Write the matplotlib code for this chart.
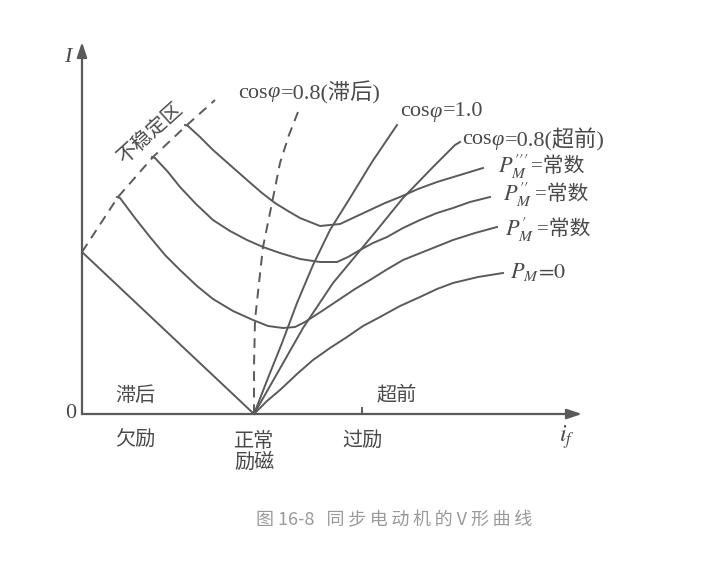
import matplotlib
matplotlib.use("Agg")
import matplotlib.pyplot as plt

# curve data (i_f, I) in schematic units, origin at the axes crossing
unstable_x = [0, 36, 71, 105, 133]
unstable_y = [162, 217, 257, 289, 314]

pm0_x = [0, 172, 185, 198, 215, 231, 248, 265, 281, 298, 318, 338, 355, 371, 396, 421]
pm0_y = [162, 0, 13, 24, 40, 54, 66, 77, 88, 97, 108, 117, 125, 131, 137, 141]

pm1_x = [35, 38, 53, 68, 83, 98, 115, 131, 151, 171, 186, 201, 213, 223,
         240, 258, 273, 288, 304, 321, 346, 371, 393, 415]
pm1_y = [217, 216, 196, 177, 159, 144, 128, 115, 103, 94, 88, 86, 87, 92,
         103, 115, 125, 134, 144, 154, 164, 174, 181, 187]

pm2_x = [70, 73, 86, 98, 114, 131, 148, 165, 181, 198, 218, 238, 255, 266,
         278, 291, 305, 321, 338, 355, 371, 388, 408]
pm2_y = [257, 256, 242, 227, 210, 194, 183, 174, 167, 161, 155, 152, 152, 157,
         164, 171, 177, 186, 194, 201, 206, 212, 217]

pm3_x = [103, 106, 118, 131, 148, 165, 180, 193, 206, 218, 238, 258, 273,
         288, 303, 318, 336, 355, 378, 401]
pm3_y = [289, 288, 277, 264, 249, 234, 221, 211, 203, 196, 188, 190, 197,
         204, 211, 217, 225, 232, 239, 246]

unity_x = [172, 186, 200, 215, 231, 248, 268, 290, 315]
unity_y = [0, 36, 71, 111, 149, 184, 216, 252, 289]

lead_x = [172, 196, 221, 251, 271, 295, 321, 351, 373, 378]
lead_y = [0, 42, 86, 131, 155, 184, 216, 247, 269, 272]

lag_x = [172, 172, 173, 177, 181, 190, 198, 207, 216]
lag_y = [0, 47, 94, 131, 167, 211, 251, 279, 302]

x_end, y_end = 500, 372
tick_x = 280

line_c = "#5a5a5a"
text_c = "#4a4a4a"
lw = 1.4
fam = ["Liberation Serif", "Noto Sans CJK SC"]
cjk = ["Noto Sans CJK SC", "DejaVu Sans"]
plt.rcParams["mathtext.fontset"] = "stix"

fig = plt.figure(figsize=(7.17, 5.68), dpi=100)
ax = fig.add_axes([0, 0, 1, 1])
ax.set_xlim(-82, 635)
ax.set_ylim(-154, 414)
ax.axis("off")

# axes with arrows
arrow = dict(arrowstyle="-|>,head_length=0.9,head_width=0.3",
             color=line_c, lw=1.6, shrinkA=0, shrinkB=0)
ax.annotate("", xy=(x_end, 0), xytext=(0, 0), arrowprops=arrow)
ax.annotate("", xy=(0, y_end), xytext=(0, 0), arrowprops=arrow)
ax.plot([tick_x, tick_x], [0, 6], color=line_c, lw=1.4)

ax.plot(unstable_x, unstable_y, color=line_c, lw=lw, ls=(0, (5, 3.5)))
ax.plot(lag_x, lag_y, color=line_c, lw=lw, ls=(0, (5, 3.5)))
for xs, ys in [(pm0_x, pm0_y), (pm1_x, pm1_y), (pm2_x, pm2_y),
               (pm3_x, pm3_y), (unity_x, unity_y), (lead_x, lead_y)]:
    ax.plot(xs, ys, color=line_c, lw=lw, solid_joinstyle="round")

fs = 16
cfs = 14.5
ax.text(-14, 356, "I", fontsize=fs, style="italic", family=fam,
        color=text_c, ha="center", va="center")
ax.text(-6, 0, "0", fontsize=fs, family=fam, color=text_c,
        ha="right", va="center")
ax.text(485, -23, "$i_f$", fontsize=fs + 1, color=text_c,
        ha="center", va="center")

ax.text(53, 19, "滞后", fontsize=cfs, family=cjk, color=text_c,
        ha="center", va="center")
ax.text(315, 19, "超前", fontsize=cfs, family=cjk, color=text_c,
        ha="center", va="center")
ax.text(53, -26, "欠励", fontsize=cfs, family=cjk, color=text_c,
        ha="center", va="center")
ax.text(172, -38, "正常\n励磁", fontsize=cfs, family=cjk, color=text_c,
        ha="center", va="center", linespacing=1.0)
ax.text(280, -26, "过励", fontsize=cfs, family=cjk, color=text_c,
        ha="center", va="center")
ax.text(68, 281, "不稳定区", fontsize=cfs, family=cjk, color=text_c,
        ha="center", va="center", rotation=42)

cos_labels = [(156, 321, "=0.8(滞后)"), (318, 302, "=1.0"),
              (380, 274, "=0.8(超前)")]
for x, y, rest in cos_labels:
    t = ax.text(x, y, "cos", fontsize=fs, family=fam, color=text_c,
                ha="left", va="center")
    t = ax.annotate("φ", xy=(1, 0.5), xycoords=t, fontsize=fs, family=fam,
                    style="italic", color=text_c, ha="left", va="center")
    ax.annotate(rest, xy=(1, 0.5), xycoords=t, xytext=(1, 0),
                textcoords="offset points", fontsize=fs, family=fam,
                color=text_c, ha="left", va="center")

p_labels = [(416, 247, r"$P_M'''$"), (421, 219, r"$P_M''$"),
            (423, 184, r"$P_M'$")]
for x, y, s in p_labels:
    t = ax.text(x, y, s, fontsize=fs, color=text_c, ha="left", va="center")
    ax.annotate("=常数", xy=(1, 0.5), xycoords=t, xytext=(2, 0),
                textcoords="offset points", fontsize=15, family=fam,
                color=text_c, ha="left", va="center")
ax.text(428, 142, r"$P_M\!=\!0$", fontsize=fs, color=text_c,
        ha="left", va="center")

caption = "图 16-8   同\u2009步\u2009电\u2009动\u2009机\u2009的 V 形\u2009曲\u2009线"
fig.text(394 / 717, 1 - 520 / 568, caption,
         fontsize=13, family=cjk, color="#9a9a9a", ha="center", va="center")

fig.savefig("out.png", dpi=100, facecolor="white")
